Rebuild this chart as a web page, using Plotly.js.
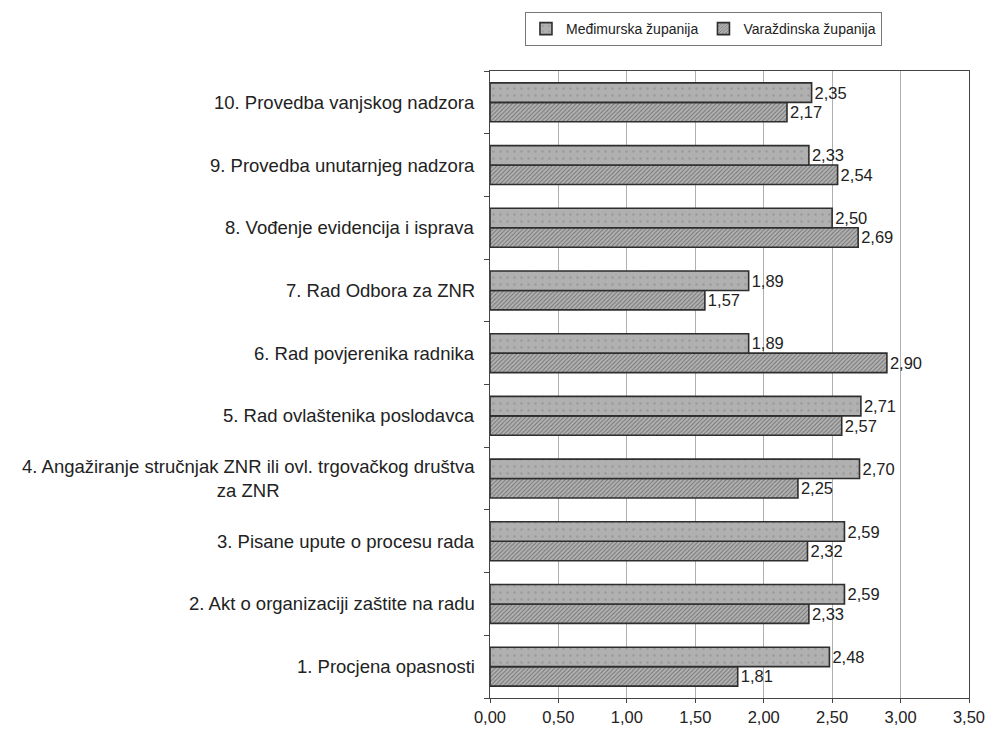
<!DOCTYPE html>
<html>
<head>
<meta charset="utf-8">
<script src="https://cdn.plot.ly/plotly-3.0.1.min.js"></script>
<style>html,body{margin:0;padding:0;background:#fff;}#chart{width:985px;height:731px;}</style>
</head>
<body>
<div id="chart"></div>
<script>
// Categories listed bottom to top
const categories = [
  "1. Procjena opasnosti",
  "2. Akt o organizaciji zaštite na radu",
  "3. Pisane upute o procesu rada",
  "4. Angažiranje stručnjak ZNR ili ovl. trgovačkog društva<br>za ZNR",
  "5. Rad ovlaštenika poslodavca",
  "6. Rad povjerenika radnika",
  "7. Rad Odbora za ZNR",
  "8. Vođenje evidencija i isprava",
  "9. Provedba unutarnjeg nadzora",
  "10. Provedba vanjskog nadzora"
];
const medimurska = [2.48, 2.59, 2.59, 2.70, 2.71, 1.89, 1.89, 2.50, 2.33, 2.35];
const varazdinska = [1.81, 2.33, 2.32, 2.25, 2.57, 2.90, 1.57, 2.69, 2.54, 2.17];
const xTicks = [0, 0.5, 1, 1.5, 2, 2.5, 3, 3.5];

const FONT = "Liberation Sans, Arial, sans-serif";

const traceVar = {
  type: "bar", orientation: "h", name: "Varaždinska županija",
  y: categories, x: varazdinska,
  marker: {
    color: "#a6a6a6",
    line: {color: "#2e2e2e", width: 1.6},
    pattern: {shape: "/", fgcolor: "#707070", bgcolor: "#b2b2b2", size: 3, solidity: 0.3}
  },
  texttemplate: "%{x:.2f}", textposition: "outside",
  textfont: {family: FONT, size: 16.5, color: "#222"},
  cliponaxis: false, hoverinfo: "x+y"
};
const traceMed = {
  type: "bar", orientation: "h", name: "Međimurska županija",
  y: categories, x: medimurska,
  marker: {
    color: "#ababab",
    line: {color: "#2e2e2e", width: 1.6},
    pattern: {shape: ".", fgcolor: "#9a9a9a", bgcolor: "#b0b0b0", size: 7, solidity: 0.1}
  },
  texttemplate: "%{x:.2f}", textposition: "outside",
  textfont: {family: FONT, size: 16.5, color: "#222"},
  cliponaxis: false, hoverinfo: "x+y"
};

const annotations = categories.map(c => ({
  xref: "paper", yref: "y", x: -0.027, y: c, xanchor: "right", yanchor: "middle",
  text: c, align: "center", showarrow: false,
  font: {family: FONT, size: 18.5, color: "#222"}
}));

const layout = {
  width: 985, height: 731,
  margin: {l: 490, r: 16, t: 68, b: 33, pad: 0},
  paper_bgcolor: "#fff", plot_bgcolor: "#fff",
  separators: ",.",
  font: {family: FONT, size: 15, color: "#222"},
  barmode: "group", bargap: 0.38, bargroupgap: 0,
  showlegend: true,
  legend: {
    orientation: "h", traceorder: "reversed",
    x: 0.073, xanchor: "left", y: 1.094, yanchor: "top",
    bordercolor: "#777", borderwidth: 1, bgcolor: "#fff",
    font: {family: FONT, size: 14, color: "#222"},
    itemwidth: 30, tracegroupgap: 0
  },
  xaxis: {
    range: [0, 3.5], tickvals: xTicks, tickformat: ".2f",
    showgrid: true, gridcolor: "#b0b0b0", gridwidth: 1,
    showline: true, linecolor: "#444", linewidth: 1.2, mirror: true,
    ticks: "outside", ticklen: 4, tickcolor: "#444",
    ticklabeloverflow: "allow",
    tickfont: {family: FONT, size: 16.5, color: "#222"},
    zeroline: false, fixedrange: true
  },
  yaxis: {
    type: "category", categoryorder: "array", categoryarray: categories,
    showticklabels: false, tickson: "boundaries",
    ticks: "outside", ticklen: 5, tickcolor: "#444",
    showline: true, linecolor: "#444", linewidth: 1.2, mirror: true,
    showgrid: false, zeroline: false, fixedrange: true
  },
  annotations: annotations
};

Plotly.newPlot("chart", [traceVar, traceMed], layout, {displayModeBar: false, staticPlot: true});
</script>
</body>
</html>
